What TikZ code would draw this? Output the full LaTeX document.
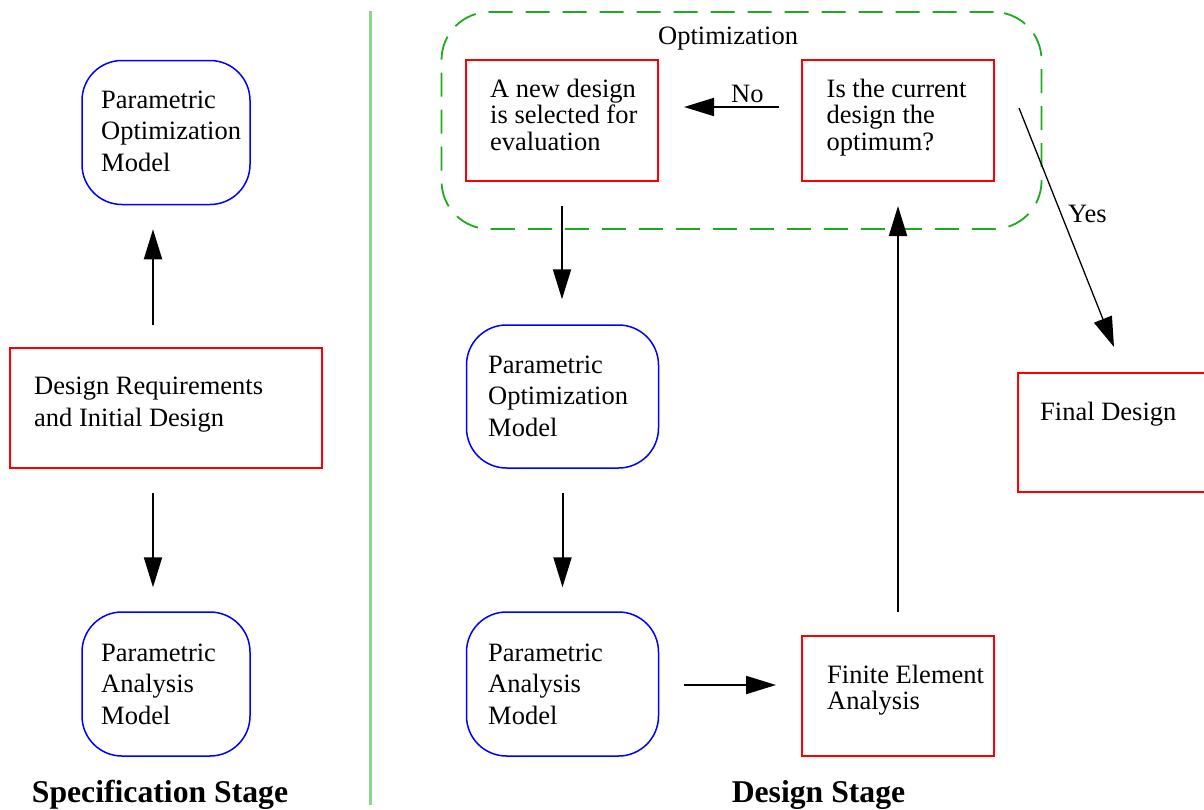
\documentclass[tikz,border=0pt]{standalone}
\usepackage{fontspec}
\setmainfont{Liberation Serif}
\usetikzlibrary{arrows.meta}
\definecolor{boxred}{rgb}{1,0,0}
\definecolor{boxblue}{rgb}{0,0,1}
\definecolor{dashgreen}{RGB}{30,170,30}
\definecolor{linegreen}{RGB}{140,215,140}
\newcommand\boxlines[1]{\begin{tabular}[t]{@{}l@{}}#1\end{tabular}}
\begin{document}
\begin{tikzpicture}[x=1pt,y=-1pt,
  redbox/.style={draw=boxred, line width=2pt, inner sep=0pt, minimum width=192pt, minimum height=121pt},
  bluebox/.style={draw=boxblue, line width=1.5pt, rounded corners=40pt, inner sep=0pt, minimum width=168pt, minimum height=144pt},
  txt/.style={inner sep=0pt, anchor=base west, font=\fontsize{26.5pt}{31.8pt}\selectfont},
  txtt/.style={inner sep=0pt, anchor=base west, font=\fontsize{26.5pt}{26.6pt}\selectfont},
  arr/.style={line width=2pt, -{Triangle[length=30pt,width=18pt]}},
  thinarr/.style={line width=1.3pt, -{Triangle[length=30pt,width=19pt]}},
  stage/.style={inner sep=0pt, anchor=base, font=\fontsize{31.7pt}{38pt}\selectfont\bfseries},
  optframe/.style={draw=dashgreen, line width=1.8pt, rounded corners=48pt, dash pattern=on 24pt off 13pt}
]
\useasboundingbox (0,0) rectangle (1204,809);

% divider
\draw[linegreen, line width=3pt] (370.5,11) coordinate (divtop) -- (370.5,805) coordinate (divbot);

% ---------- Specification stage ----------
\node[bluebox] (lopt) at (166,132.5) {};
\node[txt] (loptt) at (101,108) {\boxlines{Parametric\\Optimization\\Model}};

\node[redbox, minimum width=312pt, minimum height=120pt] (req) at (166,408) {};
\node[txt] (reqt) at (34,394.5) {\boxlines{Design Requirements\\and Initial Design}};

\node[bluebox] (lana) at (166,684) {};
\node[txt] (lanat) at (101,661) {\boxlines{Parametric\\Analysis\\Model}};

\draw[arr, shorten <=22pt, shorten >=24pt] ([xshift=-13pt]req.north) -- ([xshift=-13pt]lopt.south);
\draw[arr, shorten <=24pt, shorten >=24pt] ([xshift=-13pt]req.south) -- ([xshift=-13pt]lana.north);

\node[stage] (specstage) at (160,802.5) {Specification Stage};

% ---------- Design stage ----------
\node[optframe, minimum width=600pt, minimum height=217pt, inner sep=0pt] (opt) at (741.5,120.5) {};
\node[txtt] (optlabel) at (658,44) {Optimization};

\node[redbox] (newd) at (562,120.5) {};
\node[txtt] (newdt) at (490,97) {\boxlines{A new design\\is selected for\\evaluation}};

\node[redbox] (isopt) at (898,120.5) {};
\node[txtt] (isoptt) at (826.5,97) {\boxlines{Is the current\\design the\\optimum?}};

\node[bluebox, minimum width=192pt, minimum height=143pt] (ropt) at (562.5,396.5) {};
\node[txt] (roptt) at (488,373) {\boxlines{Parametric\\Optimization\\Model}};

\node[bluebox, minimum width=192pt, minimum height=144pt] (rana) at (562.5,684) {};
\node[txt] (ranat) at (488,661) {\boxlines{Parametric\\Analysis\\Model}};

\node[redbox, minimum height=120pt] (fea) at (898,696) {};
\node[txtt] (feat) at (827,683) {\boxlines{Finite Element\\Analysis}};

\node[redbox, minimum height=119pt] (final) at (1114,432.5) {};
\node[txtt] (finalt) at (1040,420) {Final Design};

% connectors
\draw[arr, shorten <=22pt, shorten >=25pt] ([yshift=13.5pt]isopt.west) -- ([yshift=13.5pt]newd.east);
\node[txtt] (nolabel) at (731,102) {No};
\draw[arr, shorten <=24pt, shorten >=25pt] (newd.south) -- (newd.south |- ropt.north);
\draw[arr, shorten <=24pt, shorten >=24pt] (ropt.south) -- (rana.north);
\draw[arr, shorten <=25pt, shorten >=25pt] (rana.east |- 0,685) -- (fea.west |- 0,685);
\draw[arr, shorten <=23pt, shorten >=24pt] (fea.north) -- (isopt.south);
\draw[thinarr] ([xshift=24pt,yshift=12.5pt]isopt.east) coordinate (yesstart) -- ([yshift=25pt]final.north) coordinate (yesend);
\node[txtt] (yeslabel) at (1068,222) {Yes};

\node[stage] (desstage) at (818.5,802.5) {Design Stage};
\end{tikzpicture}
\end{document}
